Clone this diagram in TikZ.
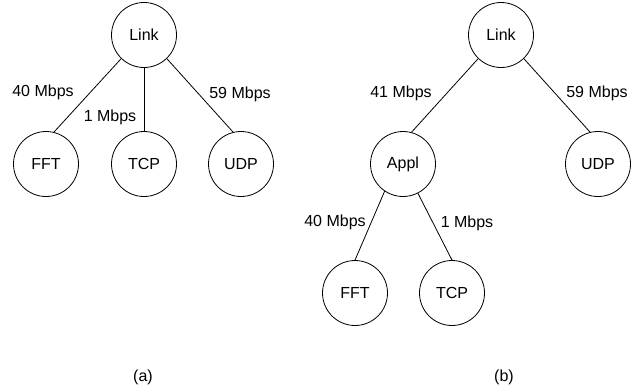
\documentclass[tikz,border=0pt]{standalone}
\usepackage{fontspec}
\setmainfont{Liberation Sans}
\begin{document}
\begin{tikzpicture}[x=1pt,y=-1pt,
  vtx/.style={circle,draw,line width=0.8pt,minimum size=65pt,inner sep=0pt,font=\fontsize{16}{19}\selectfont},
  lbl/.style={inner sep=0pt,font=\fontsize{16}{19}\selectfont},
  edge/.style={line width=0.8pt}]
\useasboundingbox (0,0) rectangle (639,391);
% (a)
\node[vtx] (la) at (144,35) {Link};
\node[vtx] (fa) at (46,164) {FFT};
\node[vtx] (ta) at (144,164) {TCP};
\node[vtx] (ua) at (241,164) {UDP};
\draw[edge] (la.-134) -- (fa.76);
\draw[edge] (la.south) -- (ta.north);
\draw[edge] (la.-46) -- (ua.104);
\node[lbl] (l40a) at (43,92) {40 Mbps};
\node[lbl] (l1a) at (110,117) {1 Mbps};
\node[lbl] (l59a) at (240,94) {59 Mbps};
\node[lbl] (capa) at (143,377) {(a)};
% (b)
\node[vtx] (lb) at (501,35) {Link};
\node[vtx] (ab) at (403,164) {Appl};
\node[vtx] (ub) at (598,164) {UDP};
\node[vtx] (fb) at (355,293) {FFT};
\node[vtx] (tb) at (452,293) {TCP};
\draw[edge] (lb.-134) -- (ab.75);
\draw[edge] (lb.-46) -- (ub.104);
\draw[edge] (ab.-124) -- (fb.north);
\draw[edge] (ab.-63) -- (tb.north);
\node[lbl] (l41b) at (401,93) {41 Mbps};
\node[lbl] (l59b) at (597,93) {59 Mbps};
\node[lbl] (l40b) at (335,222) {40 Mbps};
\node[lbl] (l1b) at (467,223) {1 Mbps};
\node[lbl] (capb) at (504,377) {(b)};
\end{tikzpicture}
\end{document}
